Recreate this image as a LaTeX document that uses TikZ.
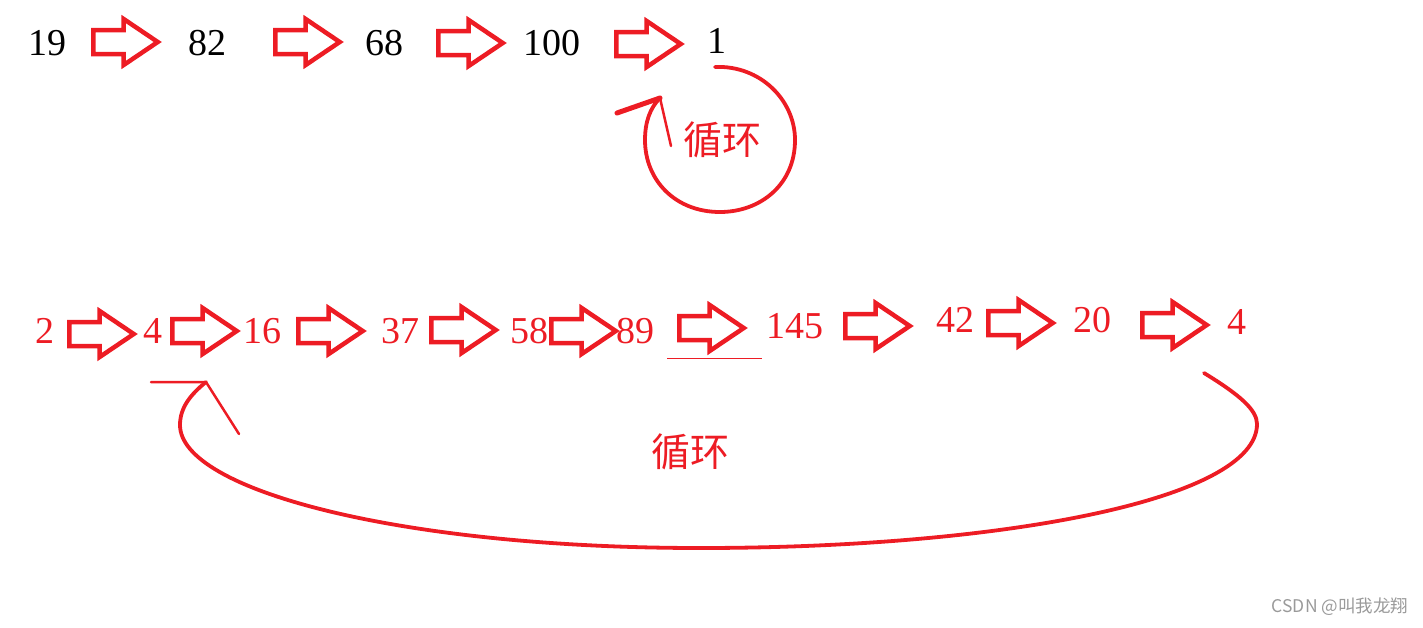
\documentclass[tikz,border=0pt]{standalone}
\usepackage{fontspec}
\setmainfont{Liberation Serif}
\newfontfamily\cjkfont{Noto Sans CJK SC}
\usetikzlibrary{shapes.arrows}
\definecolor{paintred}{HTML}{ED1C24}
\definecolor{wzgrau}{HTML}{9A9A9A}
\tikzset{
  blockpfeil/.style={single arrow, draw=paintred, line width=4.5pt, inner xsep=0pt, inner ysep=9.75pt,
    minimum height=64.5pt, single arrow head extend=11pt, single arrow tip angle=68, anchor=tail},
  zahl/.style={font=\fontsize{38}{44}\selectfont, inner sep=0pt},
  schleife/.style={draw=paintred, line width=3.8pt, line cap=round, line join=round},
}

\begin{document}
\begin{tikzpicture}[x=1pt, y=-1pt]
  \useasboundingbox (0,0) rectangle (1423,627);
  %Erste Zeile
  \node[zahl] (z19) at (47,43) {19};
  \node[zahl] (z82) at (207,43) {82};
  \node[zahl] (z68) at (384,43) {68};
  \node[zahl] (z100) at (552,43) {100};
  \node[zahl] (z1) at (717,41) {1};
  \foreach \x/\y/\n in {91/42/p1, 273/42/p2, 436/43/p3, 614/44/p4}
    \node[blockpfeil] (\n) at (\x,\y) {};
  %Kleine Schleife
  \coordinate (ks) at (715,67);
  \coordinate (kt) at (660,98);
  \coordinate (ka) at (617,113);
  \coordinate (kb) at (671,146);
  \draw[schleife] (ks) .. controls (760,65) and (795,100) .. (795,140)
    .. controls (795,185) and (760,212) .. (720,212)
    .. controls (675,212) and (645,180) .. (645,140)
    .. controls (645,122) and (650,108) .. (kt);
  \draw[schleife, line width=5pt] (ka) -- (kt);
  \draw[schleife, line width=2.5pt] (kt) -- (kb);
  \node[text=paintred, font=\cjkfont\fontsize{39}{44}\selectfont, inner sep=0pt] (kl) at (722,140) {循环};
  %Zweite Zeile
  \begin{scope}[every node/.append style={text=paintred}]
    \node[zahl] (r2) at (45,331) {2};
    \node[zahl] (r4) at (153,331) {4};
    \node[zahl] (r16) at (262,331) {16};
    \node[zahl] (r37) at (400,331) {37};
    \node[zahl] (r58) at (529,331) {58};
    \node[zahl] (r89) at (635,331) {89};
    \node[zahl] (r145) at (795,326) {145};
    \node[zahl] (r42) at (955,320) {42};
    \node[zahl] (r20) at (1092,320) {20};
    \node[zahl] (r4b) at (1237,322) {4};
  \end{scope}
  \foreach \x/\y/\n in {67/334/q1, 170/331/q2, 296/331/q3, 429/330/q4, 549/331/q5,
      677/328/q6, 843/326/q7, 986/323/q8, 1140/325/q9}
    \node[blockpfeil] (\n) at (\x,\y) {};
  \coordinate (ua) at (667,358);
  \coordinate (ub) at (762,358);
  \draw[paintred, line width=1pt] (ua) -- (ub);
  %Grosse Schleife
  \coordinate (gs) at (1204,373);
  \coordinate (gt) at (206,382);
  \coordinate (ga) at (151,382);
  \coordinate (gb) at (239,434);
  \draw[schleife] (gs) .. controls (1240,395) and (1257,410) .. (1257,424)
    .. controls (1257,500) and (1000,548) .. (700,548)
    .. controls (400,548) and (180,490) .. (180,425)
    .. controls (180,408) and (190,395) .. (gt);
  \draw[schleife, line width=2.5pt] (ga) -- (gt) -- (gb);
  \node[text=paintred, font=\cjkfont\fontsize{39}{44}\selectfont, inner sep=0pt] (gl) at (690,452) {循环};
  %Wasserzeichen
  \node[text=wzgrau, font=\cjkfont\fontsize{17.5}{20}\selectfont, inner sep=0pt] (wz) at (1340,607) {CSDN @叫我龙翔};
\end{tikzpicture}
\end{document}
